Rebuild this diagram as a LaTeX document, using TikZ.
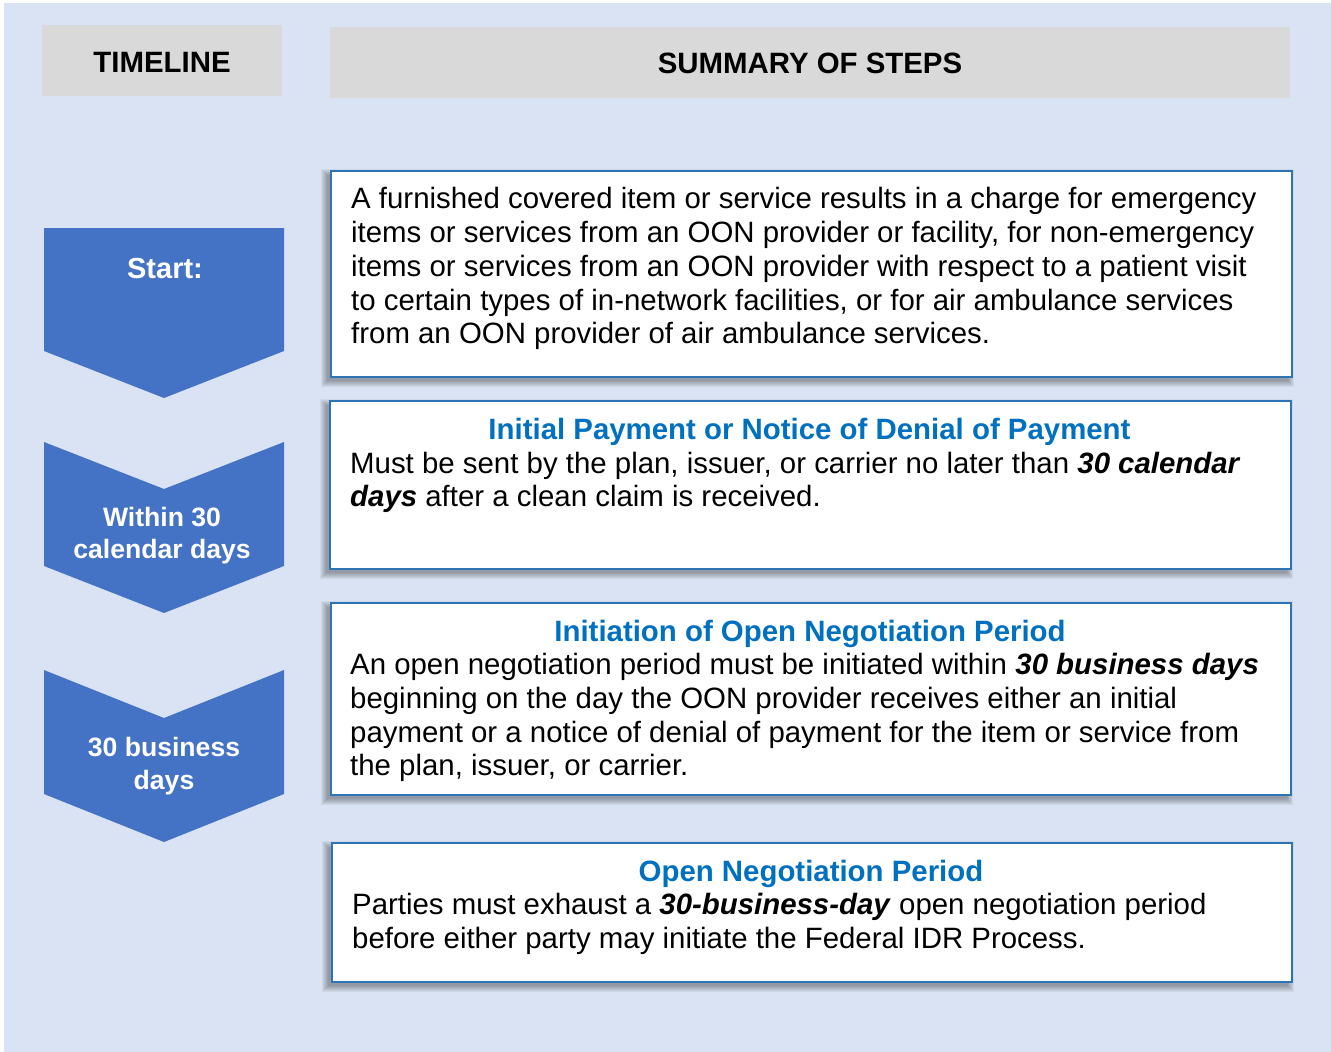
\documentclass[tikz,border=0pt]{standalone}
\usepackage{fontspec}
\setmainfont{Liberation Sans}
\definecolor{bgblue}{HTML}{DAE3F3}
\definecolor{chev}{HTML}{4472C4}
\definecolor{hdrgray}{HTML}{D9D9D9}
\definecolor{boxline}{HTML}{2E75B6}
\definecolor{headblue}{HTML}{0070C0}
\newcommand{\bodyfont}{\fontsize{29.4}{33.6}\selectfont}
\newcommand{\chevfont}{\fontsize{26.6}{32.5}\selectfont\bfseries}
\newcommand{\bi}[1]{\textbf{\textit{#1}}}
\newcommand{\shadowrect}[4]{%
  \foreach \r in {0,1,...,6}{%
    \fill[black,opacity=0.05] ({#1-3-(6-\r)},{#2+5-(6-\r)}) rectangle ({#3-3+(6-\r)},{#4+5+(6-\r)});
  }%
}
\begin{document}
\begin{tikzpicture}[x=1pt,y=-1pt,
  hdr/.style={fill=hdrgray,draw=none,inner sep=0pt,anchor=north west},
  hdrtext/.style={font=\fontsize{29.4}{34}\selectfont\bfseries,anchor=base,inner sep=0pt},
  stepbox/.style={fill=white,draw=boxline,line width=2pt,inner sep=0pt,anchor=north west},
  chevshape/.style={fill=chev,draw=none},
  chevtext/.style={text=white,font=\chevfont,align=center,inner sep=0pt},
  line/.style={font=\bodyfont,anchor=base west,inner sep=0pt},
  headline/.style={font=\bodyfont\bfseries,text=headblue,anchor=base,inner sep=0pt}
]
\useasboundingbox (0,0) rectangle (1331,1052);
\fill[bgblue] (4,3) rectangle (1331,1052);

% headers
\node[hdr,minimum width=240pt,minimum height=71pt] (hT) at (42,25) {};
\node[hdrtext] (hTt) at (162,72) {TIMELINE};
\node[hdr,minimum width=960pt,minimum height=71pt] (hS) at (330,27) {};
\node[hdrtext] (hSt) at (810,73) {SUMMARY OF STEPS};

% chevrons
\fill[chevshape] (44,228) -- (284,228) -- (284,351) -- (164,398) -- (44,351) -- cycle;
\node[chevtext,anchor=base,font=\fontsize{29}{34}\selectfont\bfseries] (c1) at (165,278) {Start:};
\fill[chevshape] (44,442) -- (164,489) -- (284,442) -- (284,566) -- (164,613) -- (44,566) -- cycle;
\node[chevtext,anchor=base] (c2a) at (162,526) {Within 30};
\node[chevtext,anchor=base] (c2b) at (162,558) {calendar days};
\fill[chevshape] (44,670) -- (164,718) -- (284,670) -- (284,794) -- (164,842) -- (44,794) -- cycle;
\node[chevtext,anchor=base] (c3a) at (164,756) {30 business};
\node[chevtext,anchor=base] (c3b) at (164,789) {days};

% box 1
\shadowrect{330}{170}{1291}{376}
\node[stepbox,minimum width=961pt,minimum height=206pt] (b1) at (330,170) {};
\node[line] (b1l1) at (351,208) {A furnished covered item or service results in a charge for emergency};
\node[line] (b1l2) at (351,242) {items or services from an OON provider or facility, for non-emergency};
\node[line] (b1l3) at (351,276) {items or services from an OON provider with respect to a patient visit};
\node[line] (b1l4) at (351,310) {to certain types of in-network facilities, or for air ambulance services};
\node[line] (b1l5) at (351,343) {from an OON provider of air ambulance services.};

% box 2
\shadowrect{329}{400}{1290}{568}
\node[stepbox,minimum width=961pt,minimum height=168pt] (b2) at (329,400) {};
\node[headline] (b2h) at (809.5,439) {Initial Payment or Notice of Denial of Payment};
\node[line] (b2l1) at (350,473) {Must be sent by the plan, issuer, or carrier no later than \bi{30 calendar}};
\node[line] (b2l2) at (350,506) {\bi{days} after a clean claim is received.};

% box 3
\shadowrect{330}{602}{1290}{794}
\node[stepbox,minimum width=960pt,minimum height=192pt] (b3) at (330,602) {};
\node[headline] (b3h) at (810,641) {Initiation of Open Negotiation Period};
\node[line] (b3l1) at (350,674) {An open negotiation period must be initiated within \bi{30 business days}};
\node[line] (b3l2) at (350,708) {beginning on the day the OON provider receives either an initial};
\node[line] (b3l3) at (350,742) {payment or a notice of denial of payment for the item or service from};
\node[line] (b3l4) at (350,775) {the plan, issuer, or carrier.};

% box 4
\shadowrect{331}{842}{1291}{981}
\node[stepbox,minimum width=960pt,minimum height=139pt] (b4) at (331,842) {};
\node[headline] (b4h) at (811,881) {Open Negotiation Period};
\node[line] (b4l1) at (352,914) {Parties must exhaust a \bi{30-business-day} open negotiation period};
\node[line] (b4l2) at (352,948) {before either party may initiate the Federal IDR Process.};
\end{tikzpicture}
\end{document}
